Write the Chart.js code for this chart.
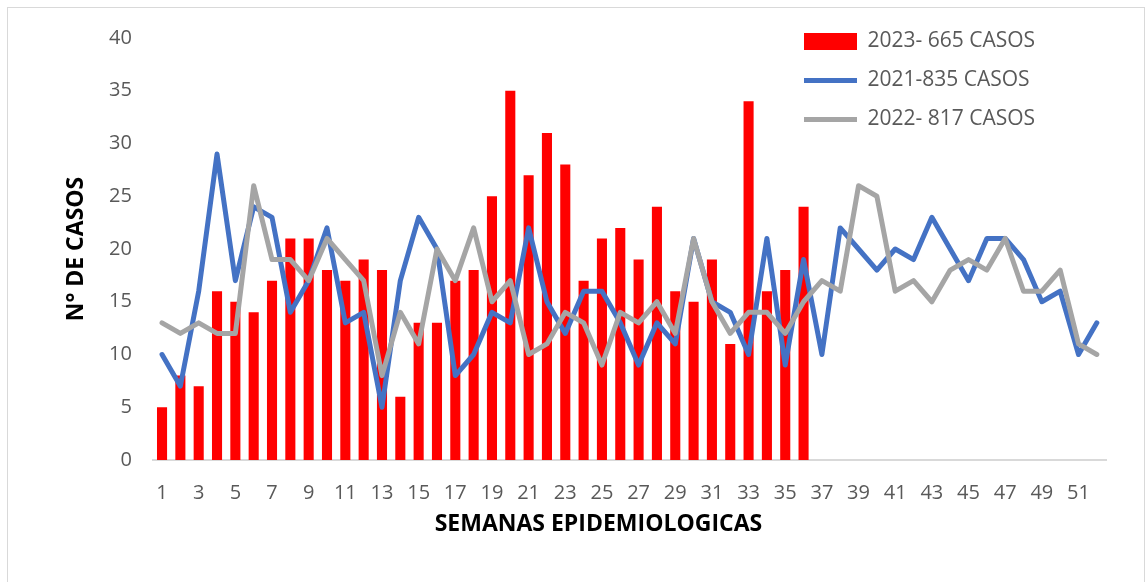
<!DOCTYPE html>
<html>
<head>
<meta charset="utf-8">
<script src="https://cdn.jsdelivr.net/npm/chart.js@4.4.0/dist/chart.umd.min.js"></script>
<style>
  html, body { margin: 0; padding: 0; background: #fff; overflow: hidden; }
  #frame { position: absolute; left: 7px; top: 7px; width: 1136px; height: 580px; border: 1px solid #d9d9d9; border-bottom: none; }
  #wrap { position: absolute; left: 0; top: 0; width: 1148px; height: 582px; }
</style>
</head>
<body>
<div id="frame"></div>
<div id="wrap"><canvas id="casosChart" width="1148" height="582"></canvas></div>
<script>
// semanas epidemiologicas
var semanas = ['1','2','3','4','5','6','7','8','9','10','11','12','13','14','15','16','17','18','19','20',
  '21','22','23','24','25','26','27','28','29','30','31','32','33','34','35','36','37','38','39','40',
  '41','42','43','44','45','46','47','48','49','50','51','52'];

// 2023 (bars, weeks 1-36)
var casos2023 = [5, 8, 7, 16, 15, 14, 17, 21, 21, 18, 17, 19, 18, 6, 13, 13, 17, 18, 25, 35,
  27, 31, 28, 17, 21, 22, 19, 24, 16, 15, 19, 11, 34, 16, 18, 24];

// 2021 (blue line)
var casos2021 = [10, 7, 16, 29, 17, 24, 23, 14, 17, 22, 13, 14, 5, 17, 23, 20, 8, 10, 14, 13,
  22, 15, 12, 16, 16, 13, 9, 13, 11, 21, 15, 14, 10, 21, 9, 19, 10, 22, 20, 18,
  20, 19, 23, 20, 17, 21, 21, 19, 15, 16, 10, 13];

// 2022 (gray line)
var casos2022 = [13, 12, 13, 12, 12, 26, 19, 19, 17, 21, 19, 17, 8, 14, 11, 20, 17, 22, 15, 17,
  10, 11, 14, 13, 9, 14, 13, 15, 12, 21, 15, 12, 14, 14, 12, 15, 17, 16, 26, 25,
  16, 17, 15, 18, 19, 18, 21, 16, 16, 18, 11, 10];

var serieNombres = ['2023- 665 CASOS', '2021-835 CASOS', '2022- 817 CASOS'];
var yTitulo = 'N° DE CASOS';
var xTitulo = 'SEMANAS EPIDEMIOLOGICAS';

var fontFam = '"Open Sans", "DejaVu Sans", sans-serif';

// legend sits on top of the plot, top right
var legendPlace = {
  id: 'legendPlace',
  beforeUpdate: function(chart) {
    var lg = chart.legend;
    if (lg && !lg._patched) {
      var fit = lg.fit;
      lg.fit = function() { fit.call(this); this.width = 0; };
      lg._patched = true;
    }
  },
  afterLayout: function(chart) {
    var lg = chart.legend;
    lg.left = chart.chartArea.right - 320;
    lg.top = 13;
    lg.right = chart.width - 4;
    lg.bottom = 160;
    lg.width = lg.right - lg.left;
    lg.height = lg.bottom - lg.top;
  }
};

// x axis title (Excel puts it a bit left of center)
var xTitle = {
  id: 'xTitle',
  afterDraw: function(chart) {
    var ctx = chart.ctx;
    var xs = chart.scales.x;
    ctx.save();
    ctx.font = 'bold 23px ' + fontFam;
    ctx.fillStyle = '#000';
    ctx.textAlign = 'center';
    ctx.textBaseline = 'middle';
    ctx.fillText(xTitulo, (xs.left + xs.right) / 2 - 31, chart.chartArea.bottom + 64);
    ctx.restore();
  }
};

var ctx = document.getElementById('casosChart').getContext('2d');
var casosChart = new Chart(ctx, {
  data: {
    labels: semanas,
    datasets: [
      {
        type: 'bar',
        label: serieNombres[0],
        data: casos2023,
        backgroundColor: '#FF0000',
        borderWidth: 0,
        barPercentage: 0.55,
        categoryPercentage: 1.0,
        order: 3
      },
      {
        type: 'line',
        label: serieNombres[1],
        data: casos2021,
        borderColor: '#4472C4',
        backgroundColor: '#4472C4',
        borderWidth: 5,
        borderJoinStyle: 'round',
        borderCapStyle: 'round',
        pointRadius: 0,
        tension: 0,
        order: 2
      },
      {
        type: 'line',
        label: serieNombres[2],
        data: casos2022,
        borderColor: '#A5A5A5',
        backgroundColor: '#A5A5A5',
        borderWidth: 5,
        borderJoinStyle: 'round',
        borderCapStyle: 'round',
        pointRadius: 0,
        tension: 0,
        order: 1
      }
    ]
  },
  options: {
    responsive: false,
    animation: false,
    devicePixelRatio: 1,
    layout: { padding: { left: 65, right: 42, top: 38, bottom: 56 } },
    plugins: {
      tooltip: { enabled: false },
      legend: {
        position: 'right',
        align: 'start',
        labels: {
          usePointStyle: true,
          pointStyleWidth: 53,
          boxHeight: 17,
          padding: 18,
          color: '#595959',
          font: { family: fontFam, size: 21 },
          generateLabels: function(chart) {
            var items = Chart.defaults.plugins.legend.labels.generateLabels(chart);
            items.forEach(function(it) {
              it.pointStyle = chart.data.datasets[it.datasetIndex].type === 'line' ? 'line' : 'rect';
            });
            return items;
          },
          sort: function(a, b) { return a.datasetIndex - b.datasetIndex; }
        }
      }
    },
    scales: {
      x: {
        grid: { display: false, drawTicks: false },
        border: { display: true, color: '#D9D9D9', width: 2 },
        ticks: {
          autoSkip: false,
          maxRotation: 0,
          minRotation: 0,
          padding: 21,
          color: '#595959',
          font: { family: fontFam, size: 20 },
          callback: function(v, i) { return i % 2 === 0 ? this.getLabelForValue(v) : ''; }
        }
      },
      y: {
        min: 0,
        max: 40,
        grid: { display: false, drawTicks: false },
        border: { display: false },
        ticks: {
          stepSize: 5,
          padding: 21,
          color: '#595959',
          font: { family: fontFam, size: 20 }
        },
        title: {
          display: true,
          text: yTitulo,
          color: '#000',
          font: { family: fontFam, size: 23, weight: 'bold', lineHeight: 1 },
          padding: { top: 0, bottom: 0 }
        }
      }
    }
  },
  plugins: [legendPlace, xTitle]
});
</script>
</body>
</html>
